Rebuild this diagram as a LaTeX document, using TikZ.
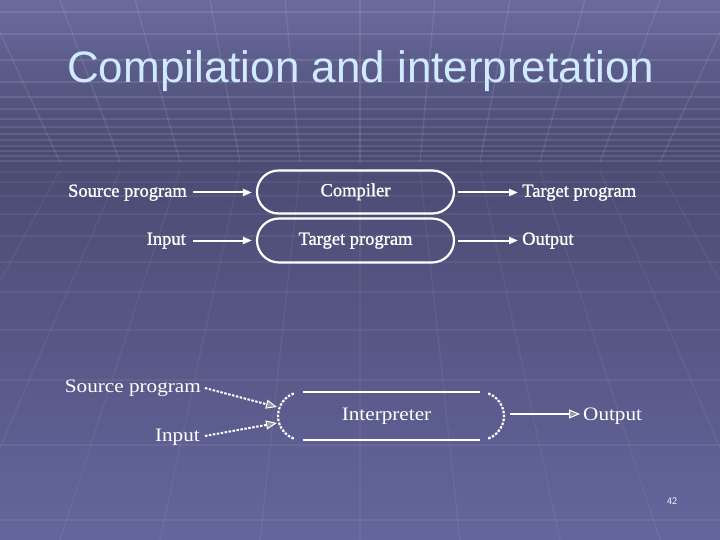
\documentclass[tikz,border=0pt]{standalone}
\usepackage{fontspec}
\usepackage{graphicx}
\setmainfont{Liberation Serif}
\newfontfamily\titlefont{Liberation Sans}
\newfontfamily\heavyserif[FakeBold=1.2]{Liberation Serif}
\usetikzlibrary{shapes.misc,arrows.meta,calc}
\definecolor{bgA}{RGB}{106,106,158}
\definecolor{bgB}{RGB}{74,74,114}
\definecolor{bgC}{RGB}{82,83,126}
\definecolor{bgD}{RGB}{100,101,156}
\definecolor{titlecol}{RGB}{208,234,255}
\definecolor{headgray}{RGB}{150,150,160}
\begin{document}
\begin{tikzpicture}[x=1pt,y=-1pt,
  grid/.style={draw=white, opacity=0.10, line width=1.3pt},
  gridB/.style={draw=white, opacity=0.06, line width=1.3pt},
  lbl/.style={text=white, font=\heavyserif\fontsize{18.5}{20}\selectfont, inner sep=2pt, text height=12.5pt, text depth=4pt},
  lblB/.style={text=white, font=\fontsize{19}{21}\selectfont, inner sep=2pt, text height=13pt, text depth=4pt},
  box/.style={rounded rectangle, draw=white, line width=2.2pt, minimum width=197pt, minimum height=43pt, inner sep=0pt, text=white, font=\heavyserif\fontsize{18.5}{20}\selectfont, text height=12.5pt, text depth=4pt},
  arr/.style={draw=white, line width=2pt, -{Triangle[length=9pt,width=7pt]}},
  darr/.style={draw=white, line width=2pt, dash pattern=on 2.5pt off 1.5pt, -{Triangle[length=11pt,width=9pt,color=white,fill=headgray,line width=1pt]}},
  oarr/.style={draw=white, line width=2pt, -{Triangle[length=11pt,width=9pt,color=white,fill=headgray,line width=1pt]}},
  boxline/.style={draw=white, line width=2pt},
  dotline/.style={draw=white, line width=2.2pt, dash pattern=on 2.5pt off 1.5pt}
]
\useasboundingbox (0,0) rectangle (720,540);
% background
\shade[top color=bgA, bottom color=bgB] (0,0) rectangle (720,150);
\shade[top color=bgB, bottom color=bgC] (0,150) rectangle (720,270);
\shade[top color=bgC, bottom color=bgD] (0,270) rectangle (720,540);
\foreach \yy in {12,34,60,82,97,109,119,127,134,140,146,151,156,161}
  \draw[grid] (0,\yy) -- (720,\yy);
\foreach \yy in {172,182,196,214,236,262,292,330,380,445,520}
  \draw[gridB] (0,\yy) -- (720,\yy);
\foreach \k in {-6,...,6}{
  \draw[grid] ({360+\k*75},0) -- ({360+\k*60},162);
  \draw[gridB] ({360+\k*60},170) -- ({360+\k*100},540);
}
% title
\node[anchor=base west, inner sep=0pt, text=titlecol, font=\titlefont\fontsize{44}{50}\selectfont] (title) at (67,83) {Compilation and interpretation};
% compilation
\node[lbl, anchor=east] (src) at (189,192.5) {Source program};
\node[box] (comp) at (355.5,192) {Compiler};
\node[lbl, anchor=west] (tgt) at (520,192.5) {Target program};
\node[lbl, anchor=east] (inp) at (188,240.5) {Input};
\node[box, minimum height=44pt] (tprog) at (355.5,240.5) {Target program};
\node[lbl, anchor=west] (out) at (520,240.5) {Output};
\draw[arr, shorten <=4pt, shorten >=4pt] (src.east) -- (comp.west |- src.east);
\draw[arr, shorten <=3pt, shorten >=2pt] (comp.east |- tgt.west) -- (tgt.west);
\draw[arr, shorten <=5pt, shorten >=4pt] (inp.east) -- (tprog.west |- inp.east);
\draw[arr, shorten <=3pt, shorten >=2pt] (tprog.east |- out.west) -- (out.west);
% interpretation
\node[lblB, anchor=east] (srcB) at (203,387.5) {\scalebox{1.115}[1]{Source program}};
\node[lblB, anchor=east] (inpB) at (202,436.5) {\scalebox{1.115}[1]{Input}};
\node[lblB] (interp) at (386.5,415.5) {\scalebox{1.115}[1]{Interpreter}};
\node[lblB, anchor=west] (outB) at (581,415.5) {\scalebox{1.115}[1]{Output}};
\draw[boxline] (303,392) -- (480,392);
\draw[boxline] (303,440) -- (480,440);
\draw[dotline] ([shift={(-110:24)}]302,416) arc[start angle=-110, end angle=-250, radius=24];
\draw[dotline] ([shift={(-70:24)}]480,416) arc[start angle=-70, end angle=70, radius=24];
\coordinate (inA) at (277,407);
\coordinate (inB) at (277,423);
\coordinate (outA) at (510,414);
\draw[darr, shorten <=2pt] (srcB.east) -- (inA);
\draw[darr, shorten <=3pt] (inpB.east) -- (inB);
\draw[oarr, shorten >=1pt] (outA) -- (outB.west |- outA);
% page number
\node[text=white, font=\sffamily\fontsize{10}{11}\selectfont, inner sep=0pt] (pg) at (672,501) {42};
\end{tikzpicture}
\end{document}
